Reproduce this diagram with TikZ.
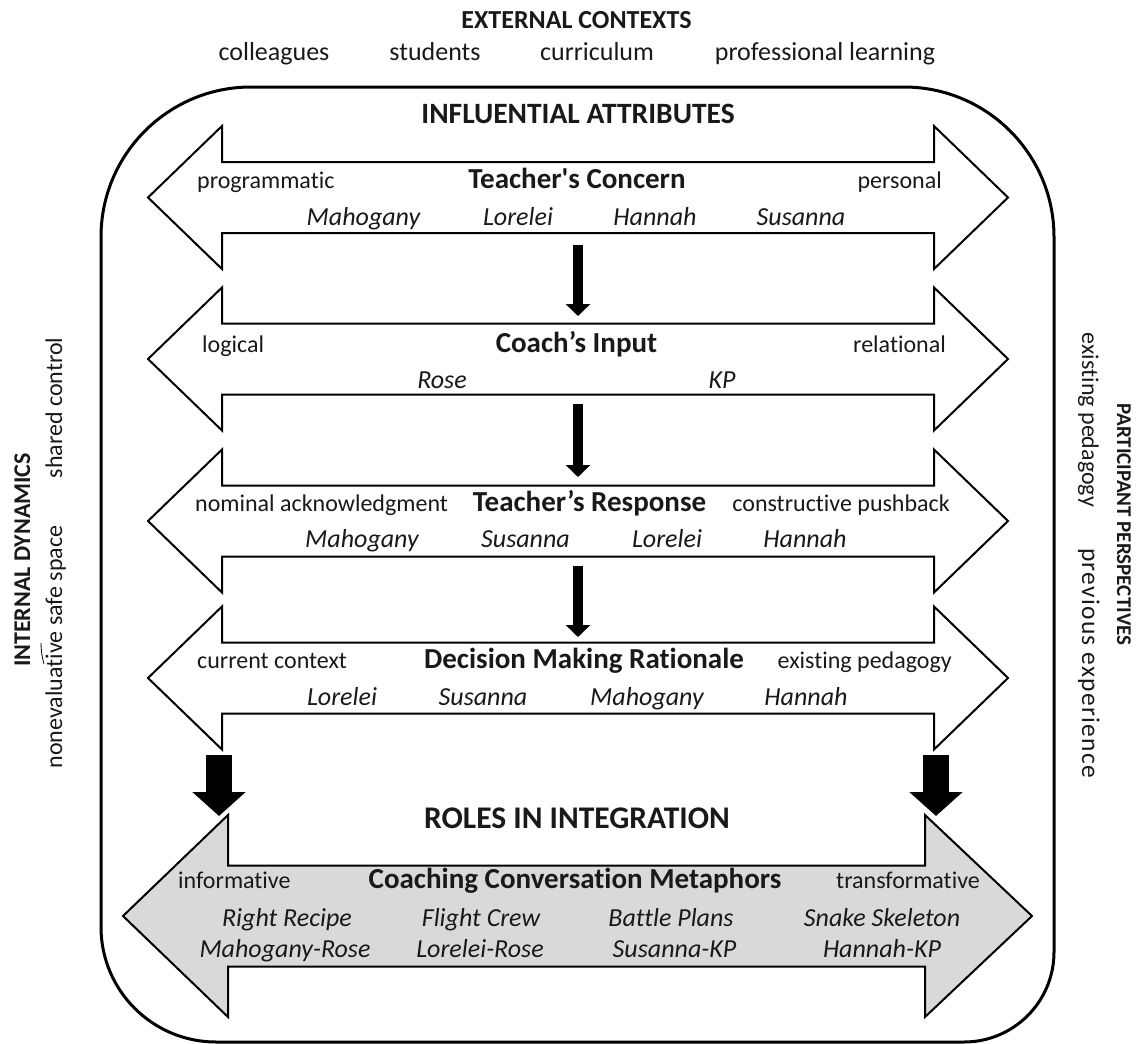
\documentclass[tikz,border=0pt]{standalone}
\usepackage{fontspec}
\setmainfont{Carlito}[Ligatures=NoCommon]
\newfontfamily\carl{Carlito}[Ligatures=NoCommon]
\usetikzlibrary{arrows.meta}
\begin{document}
\begin{tikzpicture}[x=1pt,y=-1pt,
  frame/.style={line width=3pt},
  twoway/.style={draw=black, line width=2pt, fill=white, line join=miter},
  greyway/.style={twoway, fill=black!15},
  flow/.style={line width=10pt, -{Triangle[width=24pt,length=12pt]}},
  bigflow/.style={line width=26pt, -{Triangle[width=52pt,length=24pt]}},
  txt/.style={inner sep=0pt, anchor=base, text=black!90},
  head/.style={txt, font=\carl\fontsize{26}{30}\selectfont\bfseries},
  item/.style={txt, font=\carl\fontsize{26}{30}\selectfont},
  band/.style={txt, font=\carl\fontsize{29.5}{34}\selectfont\bfseries},
  title/.style={txt, font=\carl\fontsize{29}{34}\selectfont\bfseries},
  pole/.style={txt, font=\carl\fontsize{24}{28}\selectfont},
  who/.style={txt, font=\carl\fontsize{26}{30}\selectfont\itshape},
  side/.style={txt, font=\carl\fontsize{24}{28}\selectfont},
  sidehead/.style={txt, font=\carl\fontsize{24}{28}\selectfont\bfseries},
]
\useasboundingbox (0,0) rectangle (1138,1044);

% outer frame with rounded corners
\draw[frame] (101,237) .. controls (101,154.2) and (168.2,87) .. (251,87)
  -- (904,87) .. controls (986.8,87) and (1054,154.2) .. (1054,237)
  -- (1054,952) .. controls (1054,1001.7) and (1013.7,1042) .. (964,1042)
  -- (216,1042) .. controls (152.5,1042) and (101,990.5) .. (101,927)
  -- cycle;

% four white two-way arrows
\foreach \cy in {197.5,359,521,678}{
  \draw[twoway] (148,\cy) -- (222,\cy-71.5) -- (222,\cy-35.5) -- (934,\cy-35.5)
    -- (934,\cy-71.5) -- (1008,\cy) -- (934,\cy+71.5) -- (934,\cy+35.5)
    -- (222,\cy+35.5) -- (222,\cy+71.5) -- cycle;
}
% grey two-way arrow
\def\gy{916}
\draw[greyway] (123,\gy) -- (228,\gy-101) -- (228,\gy-50.5) -- (925,\gy-50.5)
  -- (925,\gy-101) -- (1032,\gy) -- (925,\gy+101) -- (925,\gy+50.5)
  -- (228,\gy+50.5) -- (228,\gy+101) -- cycle;

% flow arrows between the bands
\coordinate (f1a) at (578,245); \coordinate (f1b) at (578,316);
\coordinate (f2a) at (578,404); \coordinate (f2b) at (578,477);
\coordinate (f3a) at (578,566); \coordinate (f3b) at (578,637);
\draw[flow] (f1a) -- (f1b);
\draw[flow] (f2a) -- (f2b);
\draw[flow] (f3a) -- (f3b);
\coordinate (g1a) at (219,755); \coordinate (g1b) at (219,816);
\coordinate (g2a) at (936,755); \coordinate (g2b) at (936,816);
\draw[bigflow] (g1a) -- (g1b);
\draw[bigflow] (g2a) -- (g2b);

% external contexts
\node[head] (ext) at (576.5,28) {EXTERNAL CONTEXTS};
\node[item] (e1) at (274,60) {colleagues};
\node[item] (e2) at (435,60) {students};
\node[item] (e3) at (597,60) {curriculum};
\node[item] (e4) at (825,60) {professional learning};

\node[band] (inf) at (578,123) {INFLUENTIAL ATTRIBUTES};

% Teacher's Concern
\node[title] (t1) at (577,188) {Teacher's Concern};
\node[pole, anchor=base west] (l1) at (197,188) {programmatic};
\node[pole, anchor=base east] (r1) at (942,188) {personal};
\node[who] (n11) at (363.5,225) {Mahogany};
\node[who] (n12) at (518,225) {Lorelei};
\node[who] (n13) at (655,225) {Hannah};
\node[who] (n14) at (801,225) {Susanna};

% Coach's Input
\node[title] (t2) at (576.5,352) {Coach’s Input};
\node[pole, anchor=base west] (l2) at (202,352) {logical};
\node[pole, anchor=base east] (r2) at (946,352) {relational};
\node[who] (n21) at (442,388) {Rose};
\node[who] (n22) at (722,388) {KP};

% Teacher's Response
\node[title] (t3) at (589.5,511) {Teacher’s Response};
\node[pole, anchor=base west] (l3) at (195,511) {nominal acknowledgment};
\node[pole, anchor=base east] (r3) at (950,511) {constructive pushback};
\node[who] (n31) at (362,547) {Mahogany};
\node[who] (n32) at (525.5,547) {Susanna};
\node[who] (n33) at (667,547) {Lorelei};
\node[who] (n34) at (805,547) {Hannah};

% Decision Making Rationale
\node[title] (t4) at (584,668) {Decision Making Rationale};
\node[pole, anchor=base west] (l4) at (197,668) {current context};
\node[pole, anchor=base east] (r4) at (952,668) {existing pedagogy};
\node[who] (n41) at (342,705) {Lorelei};
\node[who] (n42) at (483,705) {Susanna};
\node[who] (n43) at (647,705) {Mahogany};
\node[who] (n44) at (806,705) {Hannah};

% Roles in integration
\node[band, font=\carl\fontsize{31.5}{36}\selectfont\bfseries] (roles) at (577,828) {ROLES IN INTEGRATION};
\node[title] (t5) at (575,888) {Coaching Conversation Metaphors};
\node[pole, anchor=base west] (l5) at (178,888) {informative};
\node[pole, anchor=base east] (r5) at (980,888) {transformative};
\node[who] (m1) at (287,926) {Right Recipe};
\node[who] (m2) at (481,926) {Flight Crew};
\node[who] (m3) at (671,926) {Battle Plans};
\node[who] (m4) at (882,926) {Snake Skeleton};
\node[who] (p1) at (285,957) {Mahogany-Rose};
\node[who] (p2) at (480,957) {Lorelei-Rose};
\node[who] (p3) at (674.5,957) {Susanna-KP};
\node[who] (p4) at (882,957) {Hannah-KP};

% left side: internal dynamics
\node[sidehead, rotate=90] (intd) at (30,560) {INTERNAL DYNAMICS};
\node[side, rotate=90] (shc) at (62,408) {shared control};
\node[side, rotate=90] (nss) at (62,647) {nonevaluative safe space};
\draw[line width=0.8pt] (44,664) .. controls (42,657) and (41,650) .. (41,643);

% right side: participant perspectives
\node[sidehead, rotate=-90, font=\carl\fontsize{21}{25}\selectfont\bfseries] (pp) at (1117,524.5) {PARTICIPANT PERSPECTIVES};
\node[side, rotate=-90] (exp) at (1082,420) {existing pedagogy};
\node[side, rotate=-90, font=\carl\fontsize{25.5}{30}\selectfont\addfontfeature{LetterSpace=5}] (prv) at (1082,663) {previous experience};
\end{tikzpicture}
\end{document}
